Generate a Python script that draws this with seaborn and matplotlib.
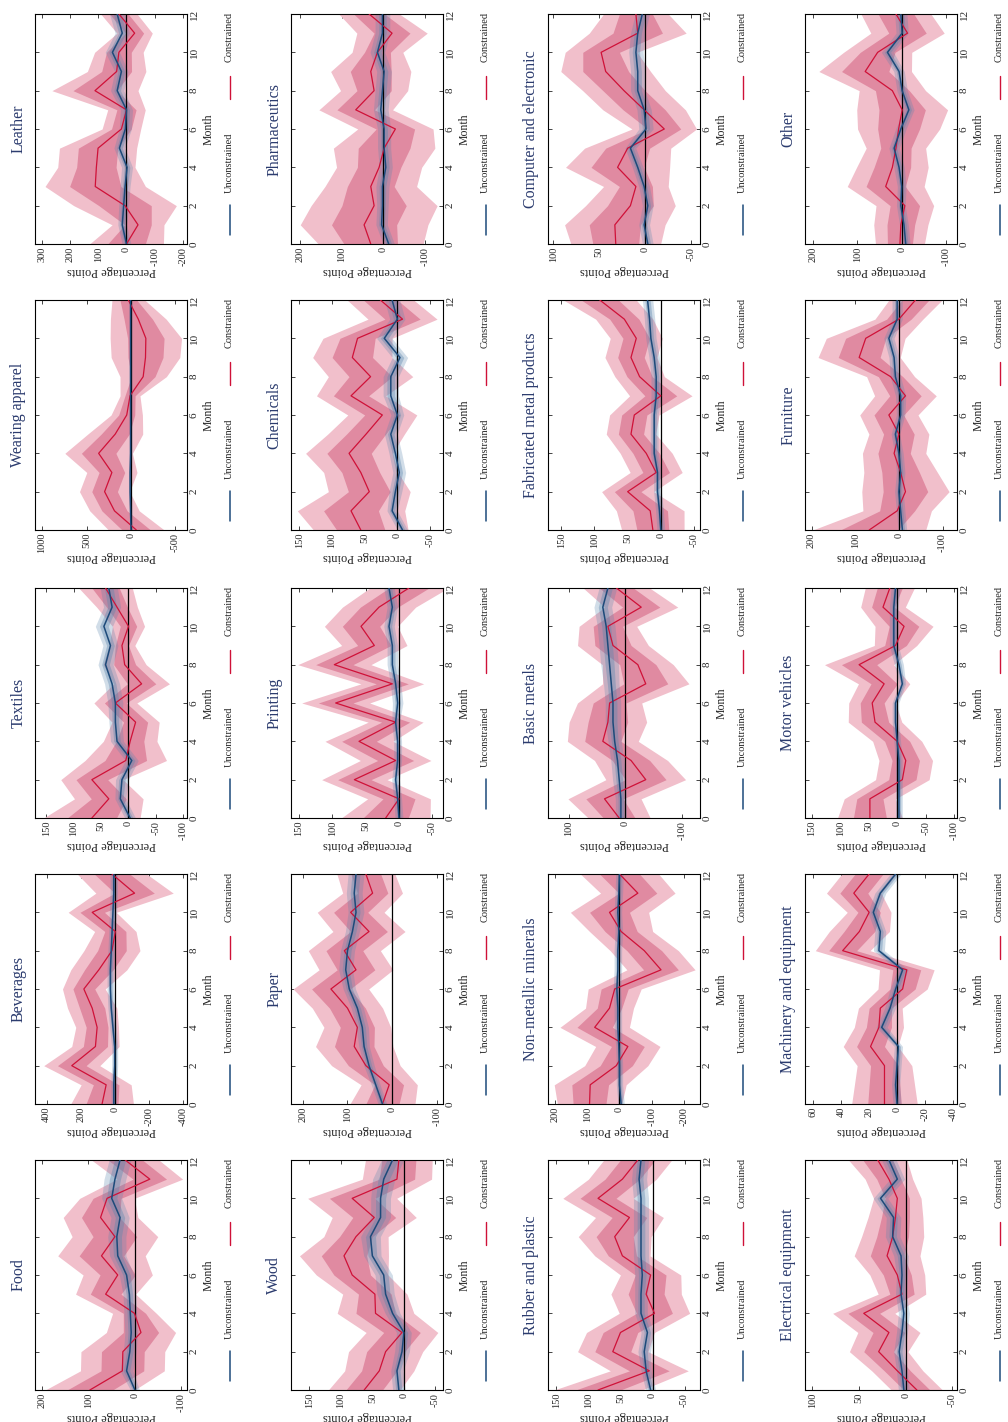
import numpy as np
import matplotlib
matplotlib.use("Agg")
import matplotlib.pyplot as plt
import seaborn as sns

# ---------------- data ----------------
months = list(range(13))
month_ticks = [0, 2, 4, 6, 8, 10, 12]

titles = [
    ["Food", "Beverages", "Textiles", "Wearing apparel", "Leather"],
    ["Wood", "Paper", "Printing", "Chemicals", "Pharmaceutics"],
    ["Rubber and plastic", "Non-metallic minerals", "Basic metals",
     "Fabricated metal products", "Computer and electronic"],
    ["Electrical equipment", "Machinery and equipment", "Motor vehicles",
     "Furniture", "Other"],
]

# constrained point estimates / standard errors, unconstrained estimates / standard errors
food_con = [97, 27, 26, -13, 1, 63, 37, 72, 43, 74, 60, -32, 21]
food_con_se = [49, 46, 46, 38, 24, 33, 38, 48, 47, 41, 30, 36, 37]
food_unc = [0, 18, 11, 8, 10, 12, 18, 37, 39, 32, 50, 43, 32]
food_unc_se = [5, 7, 7, 7, 7, 7, 8, 9, 10, 10, 11, 12, 12]

beverages_con = [74, 50, 252, 113, 103, 132, 181, 93, 16, -4, 132, -117, 16]
beverages_con_se = [94, 75, 84, 71, 64, 74, 64, 84, 84, 62, 72, 116, 104]
beverages_unc = [5, 5, 0, 0, 10, 20, 25, 25, 20, 15, 10, 5, 5]
beverages_unc_se = [8, 9, 9, 9, 10, 10, 10, 10, 10, 10, 11, 11, 11]

textiles_con = [67, 36, 67, 5, -3, -13, 24, -24, 7, 12, 0, 21, 42]
textiles_con_se = [45, 32, 29, 38, 25, 22, 20, 26, 20, 12, 15, 19, 25]
textiles_unc = [-3, 15, 12, -6, 21, 24, 24, 30, 42, 33, 45, 30, 36]
textiles_unc_se = [5, 5, 6, 6, 6, 6, 7, 7, 7, 7, 8, 8, 8]

wearing_con = [-60, 186, 297, 215, 364, 178, 48, 11, -137, -163, -167, -82, 30]
wearing_con_se = [160, 142, 144, 144, 194, 158, 90, 57, 133, 197, 205, 160, 94]
wearing_unc = [0, 5, 10, 10, 5, 5, 5, 5, 5, 5, 5, 5, 5]
wearing_unc_se = [8, 8, 8, 8, 8, 8, 8, 8, 8, 8, 8, 8, 8]

leather_con = [0, -41, 5, 111, 107, 101, 18, 0, 112, 35, 27, -29, 27]
leather_con_se = [67, 47, 93, 91, 70, 70, 35, 34, 78, 53, 44, 32, 33]
leather_unc = [0, 15, 10, 5, -2, 25, 4, 0, 33, 18, 50, 15, 33]
leather_unc_se = [8, 8, 9, 9, 10, 10, 11, 11, 12, 12, 13, 13, 14]

wood_con = [63, 39, 29, 3, 45, 46, 82, 95, 76, 47, 82, 11, 8]
wood_con_se = [29, 28, 30, 29, 31, 26, 29, 36, 26, 34, 36, 28, 27]
wood_unc = [8, 11, 3, 0, 18, 29, 32, 50, 53, 37, 37, 32, 18]
wood_unc_se = [5, 5, 6, 6, 6, 7, 7, 7, 8, 8, 8, 9, 9]

paper_con = [22, 7, 59, 85, 78, 100, 137, 81, 107, 52, 93, 44, 59]
paper_con_se = [37, 32, 39, 44, 38, 40, 43, 42, 41, 41, 38, 34, 33]
paper_unc = [22, 37, 52, 63, 67, 78, 96, 104, 100, 89, 81, 85, 81]
paper_unc_se = [5, 5, 6, 6, 7, 7, 7, 8, 8, 8, 9, 9, 9]

printing_con = [20, 0, 67, 5, 60, 5, 95, 10, 97, 37, 57, 30, -15]
printing_con_se = [34, 24, 25, 27, 26, 21, 26, 24, 28, 25, 28, 28, 30]
printing_unc = [0, 2, 5, 2, 2, 5, 2, 5, 10, 10, 15, 10, 15]
printing_unc_se = [3, 3, 3, 3, 3, 3, 4, 4, 4, 4, 4, 4, 4]

chemicals_con = [56, 71, 43, 56, 74, 48, 23, 71, 41, 69, 61, -8, 26]
chemicals_con_se = [37, 42, 32, 29, 34, 30, 27, 27, 33, 31, 27, 27, 26]
chemicals_unc = [-8, 8, 3, -3, 3, 10, 0, 10, 10, -4, 20, 0, 8]
chemicals_unc_se = [4, 4, 5, 5, 5, 5, 5, 6, 6, 6, 6, 6, 6]

pharma_con = [30, 46, 22, 30, 10, -2, -29, 66, 22, 30, 14, -21, 34]
pharma_con_se = [64, 78, 77, 56, 52, 62, 46, 45, 41, 49, 31, 43, 37]
pharma_unc = [-13, 4, 2, 2, -6, -2, -2, 6, 2, -2, 14, 2, 2]
pharma_unc_se = [7, 7, 7, 8, 8, 8, 8, 9, 9, 9, 9, 9, 9]

rubber_con = [85, 5, 62, 50, -3, 10, 3, 47, 59, 36, 85, 47, 23]
rubber_con_se = [35, 31, 28, 27, 28, 28, 24, 22, 29, 27, 28, 27, 27]
rubber_unc = [3, 10, 13, 8, 18, 18, 16, 18, 18, 18, 18, 21, 18]
rubber_unc_se = [4, 4, 5, 5, 5, 5, 6, 6, 6, 6, 6, 6, 6]

nonmet_con = [93, 91, 10, -26, 77, 31, 15, -129, -77, -5, 31, -57, 0]
nonmet_con_se = [51, 57, 50, 51, 55, 38, 42, 54, 54, 50, 62, 59, 62]
nonmet_unc = [-5, 0, 0, 2, 5, 5, 8, 5, 5, 2, 5, 2, 0]
nonmet_unc_se = [5, 5, 5, 5, 6, 6, 6, 6, 6, 6, 6, 6, 6]

basic_con = [11, 37, -36, -10, 40, 31, 28, -36, -22, 22, 31, -28, 16]
basic_con_se = [28, 33, 36, 33, 32, 35, 29, 39, 32, 32, 26, 33, 30]
basic_unc = [8, 8, 11, 14, 19, 22, 22, 25, 28, 31, 34, 40, 31]
basic_unc_se = [5, 5, 6, 6, 6, 7, 7, 7, 8, 8, 8, 8, 8]

fabric_con = [12, 16, 50, 7, 22, 45, 40, 0, 32, 45, 37, 55, 92]
fabric_con_se = [24, 26, 20, 20, 20, 19, 19, 24, 19, 20, 20, 22, 28]
fabric_unc = [0, 2, 5, 5, 10, 10, 10, 7, 7, 10, 15, 17, 20]
fabric_unc_se = [3, 3, 3, 3, 3, 3, 3, 4, 4, 4, 4, 4, 4]

computer_con = [32, 33, 16, 10, 30, 19, -21, 1, 23, 43, 48, 8, 10]
computer_con_se = [25, 28, 25, 18, 29, 24, 18, 23, 23, 25, 20, 27, 18]
computer_unc = [-3, 1, -3, 1, 8, 16, -1, 1, 8, 8, 10, 8, 3]
computer_unc_se = [3, 3, 3, 3, 3, 3, 4, 4, 4, 4, 4, 4, 4]

electrical_con = [-12, 9, 29, 18, 45, 4, 9, 20, 14, 11, 9, 18, 30]
electrical_con_se = [14, 14, 16, 17, 17, 13, 15, 18, 17, 15, 13, 13, 16]
electrical_unc = [2, 4, 7, 4, 2, 5, 4, 5, 14, 13, 27, 9, 18]
electrical_unc_se = [3, 3, 3, 3, 3, 3, 3, 4, 4, 4, 4, 4, 4]

machinery_con = [9, 9, 9, 19, 13, 12, -4, -7, 39, 27, 20, 31, 20]
machinery_con_se = [12, 11, 10, 10, 9, 8, 9, 10, 10, 11, 8, 10, 10]
machinery_unc = [0, 1, 0, -1, 11, 5, 1, -4, 13, 12, 17, 12, 1]
machinery_unc_se = [1.5, 1.5, 1.5, 1.5, 2, 2, 2, 2, 2, 2, 2, 2, 2]

motor_con = [48, 48, -9, -15, 0, 39, 44, 23, 67, 3, -12, 25, 13]
motor_con_se = [29, 23, 24, 24, 22, 24, 21, 23, 31, 19, 26, 20, 22]
motor_unc = [-3, -3, -3, -3, 0, 3, 3, -9, -3, 6, 6, 6, 3]
motor_unc_se = [3, 3, 3, 3, 3, 3, 3, 3, 4, 4, 4, 4, 4]

furniture_con = [68, 4, -15, -4, 11, 0, 23, -15, 19, 91, 76, 0, -38]
furniture_con_se = [66, 40, 51, 43, 37, 35, 34, 36, 28, 48, 46, 28, 31]
furniture_unc = [-8, -4, 0, -4, 0, 8, -4, -4, 8, 11, 23, 4, 4]
furniture_unc_se = [5, 5, 5, 5, 5, 5, 5, 6, 6, 6, 6, 6, 6]

other_con = [4, 2, -7, 36, 21, 13, 7, -1, 21, 82, 54, -13, 13]
other_con_se = [28, 31, 33, 44, 41, 34, 47, 52, 38, 53, 39, 42, 40]
other_unc = [-9, -5, 2, 0, 6, 17, 2, -16, -1, 6, 32, -1, 2]
other_unc_se = [5, 5, 5, 5, 6, 6, 6, 6, 6, 6, 7, 7, 7]

# value-axis ranges and ticks per panel (high value on the left)
value_limits = {
    "Food": (215, -112), "Beverages": (468, -425), "Textiles": (171, -107),
    "Wearing apparel": (1080, -630), "Leather": (325, -215),
    "Wood": (179, -62), "Paper": (226, -113), "Printing": (162, -66),
    "Chemicals": (163, -70), "Pharmaceutics": (221, -143),
    "Rubber and plastic": (163, -74), "Non-metallic minerals": (222, -250),
    "Basic metals": (137, -132), "Fabricated metal products": (170, -59),
    "Computer and electronic": (106, -60),
    "Electrical equipment": (108, -55), "Machinery and equipment": (66, -43),
    "Motor vehicles": (162, -105), "Furniture": (215, -133), "Other": (217, -124),
}
value_ticks = {
    "Food": [200, 100, 0, -100], "Beverages": [400, 200, 0, -200, -400],
    "Textiles": [150, 100, 50, 0, -50, -100], "Wearing apparel": [1000, 500, 0, -500],
    "Leather": [300, 200, 100, 0, -100, -200],
    "Wood": [150, 100, 50, 0, -50], "Paper": [200, 100, 0, -100],
    "Printing": [150, 100, 50, 0, -50], "Chemicals": [150, 100, 50, 0, -50],
    "Pharmaceutics": [200, 100, 0, -100],
    "Rubber and plastic": [150, 100, 50, 0, -50],
    "Non-metallic minerals": [200, 100, 0, -100, -200],
    "Basic metals": [100, 0, -100], "Fabricated metal products": [150, 100, 50, 0, -50],
    "Computer and electronic": [100, 50, 0, -50],
    "Electrical equipment": [100, 50, 0, -50],
    "Machinery and equipment": [60, 40, 20, 0, -20, -40],
    "Motor vehicles": [150, 100, 50, 0, -50, -100],
    "Furniture": [200, 100, 0, -100], "Other": [200, 100, 0, -100],
}

series = {
    "Food": (food_con, food_con_se, food_unc, food_unc_se),
    "Beverages": (beverages_con, beverages_con_se, beverages_unc, beverages_unc_se),
    "Textiles": (textiles_con, textiles_con_se, textiles_unc, textiles_unc_se),
    "Wearing apparel": (wearing_con, wearing_con_se, wearing_unc, wearing_unc_se),
    "Leather": (leather_con, leather_con_se, leather_unc, leather_unc_se),
    "Wood": (wood_con, wood_con_se, wood_unc, wood_unc_se),
    "Paper": (paper_con, paper_con_se, paper_unc, paper_unc_se),
    "Printing": (printing_con, printing_con_se, printing_unc, printing_unc_se),
    "Chemicals": (chemicals_con, chemicals_con_se, chemicals_unc, chemicals_unc_se),
    "Pharmaceutics": (pharma_con, pharma_con_se, pharma_unc, pharma_unc_se),
    "Rubber and plastic": (rubber_con, rubber_con_se, rubber_unc, rubber_unc_se),
    "Non-metallic minerals": (nonmet_con, nonmet_con_se, nonmet_unc, nonmet_unc_se),
    "Basic metals": (basic_con, basic_con_se, basic_unc, basic_unc_se),
    "Fabricated metal products": (fabric_con, fabric_con_se, fabric_unc, fabric_unc_se),
    "Computer and electronic": (computer_con, computer_con_se, computer_unc, computer_unc_se),
    "Electrical equipment": (electrical_con, electrical_con_se, electrical_unc, electrical_unc_se),
    "Machinery and equipment": (machinery_con, machinery_con_se, machinery_unc, machinery_unc_se),
    "Motor vehicles": (motor_con, motor_con_se, motor_unc, motor_unc_se),
    "Furniture": (furniture_con, furniture_con_se, furniture_unc, furniture_unc_se),
    "Other": (other_con, other_con_se, other_unc, other_unc_se),
}

Z_INNER, Z_OUTER = 1.0, 1.96

# ---------------- style ----------------
sns.set_style("ticks")
plt.rcParams["font.family"] = ["Liberation Serif", "DejaVu Serif"]
plt.rcParams["axes.unicode_minus"] = False

RED = "#cf1138"
RED_OUT = "#f1bfcb"
RED_IN = "#e08aa1"
BLUE = "#1d4a7a"
BLUE_BAND = "#5b86ad"
TITLE_C = "#2b3b6e"

W_PX, H_PX = 1008, 1422
fig = plt.figure(figsize=(W_PX / 100, H_PX / 100), dpi=100)

col_left_px = [35, 291, 548, 805]
row_top_px = [14, 300, 588, 874, 1160]
ax_w_px, ax_h_px = 152, 230

m = np.array(months, dtype=float)

for r, row in enumerate(titles):
    for c, name in enumerate(row):
        left = col_left_px[r]
        top = row_top_px[4 - c]
        ax = fig.add_axes([left / W_PX, 1 - (top + ax_h_px) / H_PX,
                           ax_w_px / W_PX, ax_h_px / H_PX])
        con, con_se, unc, unc_se = (np.array(v, dtype=float) for v in series[name])

        ax.fill_betweenx(m, con - Z_OUTER * con_se, con + Z_OUTER * con_se,
                         color=RED_OUT, lw=0, zorder=1)
        ax.fill_betweenx(m, con - Z_INNER * con_se, con + Z_INNER * con_se,
                         color=RED_IN, lw=0, zorder=1.1)
        ax.fill_betweenx(m, unc - Z_OUTER * unc_se, unc + Z_OUTER * unc_se,
                         color=BLUE_BAND, alpha=0.28, lw=0, zorder=1.2)
        ax.fill_betweenx(m, unc - Z_INNER * unc_se, unc + Z_INNER * unc_se,
                         color=BLUE_BAND, alpha=0.38, lw=0, zorder=1.3)
        ax.axvline(0, color="black", lw=0.9, zorder=2)
        sns.lineplot(x=con, y=m, orient="y", ax=ax, color=RED, lw=0.9,
                     errorbar=None, legend=False, zorder=3)
        sns.lineplot(x=unc, y=m, orient="y", ax=ax, color=BLUE, lw=1.1,
                     errorbar=None, legend=False, zorder=3.5)

        ax.set_xlim(*value_limits[name])
        ax.set_ylim(0, 12)
        vt = value_ticks[name]
        ax.set_xticks(vt, labels=[str(v) for v in vt], rotation=90,
                      ha="center", va="top")
        ax.set_yticks(month_ticks, labels=[str(v) for v in month_ticks],
                      rotation=90, va="center", ha="left")
        ax.tick_params(axis="both", direction="in", length=3, width=0.6,
                       labelsize=7.5, pad=2, top=True, bottom=True,
                       left=True, right=True)
        ax.tick_params(axis="y", labelleft=False, labelright=True, labelsize=8)
        ax.set_xlabel("")
        ax.set_ylabel("")
        for sp in ax.spines.values():
            sp.set_linewidth(0.8)
            sp.set_color("black")

        ax.text(-0.11, 0.5, name, rotation=90, transform=ax.transAxes,
                ha="center", va="center", fontsize=11.5, color=TITLE_C)
        ax.text(1.14, 0.5, "Month", rotation=90, transform=ax.transAxes,
                ha="center", va="center", fontsize=8.5)
        ax.text(0.5, -0.118, "Percentage Points", rotation=180,
                transform=ax.transAxes, ha="center", va="center", fontsize=9)
        # legend (drawn rotated)
        ax.plot([1.28, 1.28], [0.04, 0.17], transform=ax.transAxes,
                color=BLUE, lw=1.1, clip_on=False)
        ax.text(1.28, 0.355, "Unconstrained", rotation=90, transform=ax.transAxes,
                ha="center", va="center", fontsize=7.5)
        ax.plot([1.28, 1.28], [0.63, 0.73], transform=ax.transAxes,
                color=RED, lw=1.0, clip_on=False)
        ax.text(1.28, 0.9, "Constrained", rotation=90, transform=ax.transAxes,
                ha="center", va="center", fontsize=7.5)

fig.savefig("out.png", dpi=100)
